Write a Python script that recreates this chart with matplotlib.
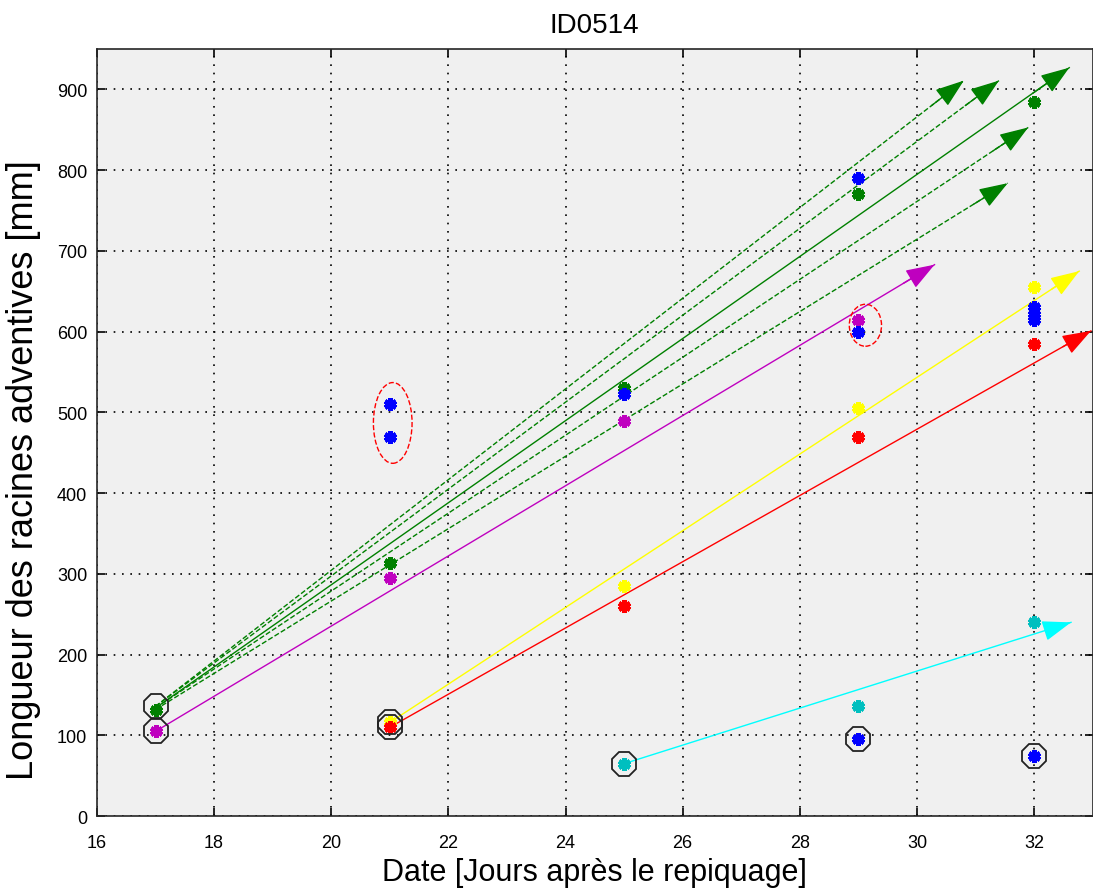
import numpy as np
import matplotlib.pyplot as plt
from matplotlib.patches import Ellipse

plt.rcParams['font.family'] = ['Liberation Sans', 'DejaVu Sans']

# %%
# DATA

green_x = [17, 21, 25, 29, 32]
green_y = [132, 314, 530, 770, 885]

blue_x = [21, 21, 25, 29, 29, 29, 32, 32, 32, 32]
blue_y = [510, 470, 523, 790, 600, 95, 630, 622, 615, 75]

magenta_x = [17, 21, 25, 29]
magenta_y = [105, 295, 490, 615]

yellow_x = [21, 25, 29, 32]
yellow_y = [116, 285, 505, 655]

red_x = [21, 25, 29, 32]
red_y = [110, 260, 470, 585]

cyan_x = [25, 29, 32]
cyan_y = [65, 137, 240]

# circled starting points
circle_x = [17, 17, 21, 21, 25, 29, 32]
circle_y = [136, 105, 117, 110, 65, 95, 75]

# arrows: (x0, y0, x1, y1)
green_solid = [(17, 134, 32.6, 927)]
green_dashed = [
    (17, 136, 30.8, 911),
    (17, 136, 31.4, 911),
    (17, 134, 31.9, 853),
    (17, 132, 31.55, 784),
]
magenta_arrow = (17, 105, 30.3, 683)
yellow_arrow = (21, 116, 32.77, 675)
red_arrow = (21, 110, 32.97, 601)
cyan_arrow = (25, 65, 32.63, 240)

# outlier ellipses: (center x, center y, width, height)
ellipses = [(21.05, 487, 0.66, 100), (29.12, 608, 0.55, 52)]

GREEN = '#008000'
MAGENTA = '#bf00bf'

# %%

def draw_arrow(ax, a, color, ls='-'):
    x0, y0, x1, y1 = a
    ax.plot([x0, x1], [y0, y1], ls, color=color, lw=1.0, zorder=2)
    xa = x1 - 0.04 * (x1 - x0)
    ya = y1 - 0.04 * (y1 - y0)
    ax.annotate('', xy=(x1, y1), xytext=(xa, ya),
                arrowprops=dict(arrowstyle='-|>,head_length=0.9,head_width=0.32',
                                color=color, lw=1.0, mutation_scale=20,
                                shrinkA=0, shrinkB=0),
                zorder=3)


fig = plt.figure(figsize=(10.93, 8.95), dpi=100)
ax = fig.add_axes([0.0887, 0.087, 0.911, 0.857])
ax.set_facecolor('#f0f0f0')

for a in green_dashed:
    draw_arrow(ax, a, GREEN, '--')
for a in green_solid:
    draw_arrow(ax, a, GREEN, '-')
draw_arrow(ax, magenta_arrow, MAGENTA)
draw_arrow(ax, yellow_arrow, '#ffff00')
draw_arrow(ax, red_arrow, '#ff0000')
draw_arrow(ax, cyan_arrow, '#00ffff')

mk = dict(marker=(6, 2, 0), ms=9, mew=3.4, ls='none', zorder=4)
ax.plot(green_x, green_y, color=GREEN, **mk)
ax.plot(magenta_x, magenta_y, color=MAGENTA, **mk)
ax.plot(yellow_x, yellow_y, color='#ffff00', **mk)
ax.plot(red_x, red_y, color='#ff0000', **mk)
ax.plot(cyan_x, cyan_y, color='#00bfbf', **mk)
ax.plot(blue_x, blue_y, color='#0000ff', **mk)

ax.plot(circle_x, circle_y, marker='8', ms=19, mfc='none', mec='#222222',
        mew=1.3, ls='none', zorder=5)

for cx, cy, w, h in ellipses:
    ax.add_patch(Ellipse((cx, cy), w, h, fill=False, ec='#ff0000',
                         ls='--', lw=1.0, zorder=5))

ax.set_xlim(16, 33)
ax.set_ylim(0, 950)
ax.set_xticks(np.arange(16, 33, 2))
ax.set_yticks(np.arange(0, 901, 100))
ax.grid(True, ls=(0, (1, 4)), color='black', lw=1.2)
ax.tick_params(direction='in', top=True, right=True, length=6, width=1.2,
               labelsize=13)
ax.tick_params(axis='x', pad=13)
ax.tick_params(axis='y', pad=7)
for s in ax.spines.values():
    s.set_linewidth(1.2)
    s.set_color('#262626')

ax.set_title('ID0514', fontsize=20, pad=12)
ax.set_xlabel('Date [Jours après le repiquage]', fontsize=22, labelpad=4)
ax.set_ylabel('Longueur des racines adventives [mm]', fontsize=26)
ax.yaxis.set_label_coords(-0.056, 0.452)

fig.savefig('out.png', dpi=100)
